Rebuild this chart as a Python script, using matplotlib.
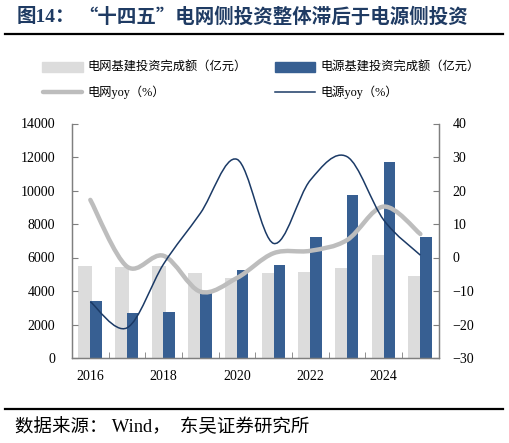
import matplotlib.pyplot as plt
import numpy as np
from matplotlib.path import Path
from matplotlib.patches import PathPatch, Rectangle
from matplotlib.lines import Line2D

plt.rcParams['font.family'] = ['Liberation Serif', 'Noto Sans CJK SC']

years = [2016, 2017, 2018, 2019, 2020, 2021, 2022, 2023, 2024, 2025]
year_labels = ['2016', '', '2018', '', '2020', '', '2022', '', '2024', '']
grid_inv = [5510, 5450, 5470, 5090, 4780, 5050, 5115, 5350, 6170, 4915]
power_inv = [3420, 2705, 2746, 3960, 5254, 5550, 7224, 9710, 11700, 7224]
grid_yoy = [17.2, -2.7, 0.5, -10.2, -6.1, 1.3, 2.0, 5.2, 15.2, 7.0]
power_yoy = [-13.2, -21.0, -1.9, 13.2, 29.3, 4.2, 23.1, 30.1, 11.2, 0.7]

c_gray_bar = '#dcdcdc'
c_blue_bar = '#375f92'
c_gray_line = '#bdbdbd'
c_navy_line = '#1b3a66'
c_title = '#1f3b63'
c_spine = '#7f7f7f'


def smooth_path(xs, ys):
    # excel-like smoothed line: catmull-rom segments as cubic beziers
    pts = np.column_stack([xs, ys]).astype(float)
    ext = np.vstack([pts[0], pts, pts[-1]])
    verts = [pts[0]]
    codes = [Path.MOVETO]
    for i in range(len(pts) - 1):
        p0, p1, p2, p3 = ext[i], ext[i + 1], ext[i + 2], ext[i + 3]
        verts += [p1 + (p2 - p0) / 6, p2 - (p3 - p1) / 6, p2]
        codes += [Path.CURVE4] * 3
    return Path(verts, codes)


W, H = 509, 443
fig = plt.figure(figsize=(W / 100, H / 100), dpi=100)
ax = fig.add_axes([72 / W, 1 - 358 / H, (438.7 - 72) / W, (358 - 123.5) / H])
ax2 = ax.twinx()

x = np.arange(len(years))
ax.bar(x - 0.14, grid_inv, width=0.38, color=c_gray_bar, zorder=1)
ax.bar(x + 0.15, power_inv, width=0.31, color=c_blue_bar, zorder=2)

ax.set_xlim(-0.5, len(years) - 0.5)
ax.set_ylim(0, 14000)
ax.set_yticks(range(0, 14001, 2000))
ax.set_xticks(x)
ax.set_xticklabels(year_labels)
ax.set_xticks(np.arange(-0.5, len(years)), minor=True)
ax.tick_params(axis='x', which='major', length=0, pad=9, labelsize=10)
ax.tick_params(axis='x', which='minor', direction='in', length=4, color=c_spine)
ax.tick_params(axis='y', direction='in', length=4, color=c_spine, pad=12, labelsize=10)

ax2.add_patch(PathPatch(smooth_path(x, grid_yoy), fill=False, edgecolor=c_gray_line,
                        lw=3.2, capstyle='round', zorder=3))
ax2.add_patch(PathPatch(smooth_path(x, power_yoy), fill=False, edgecolor=c_navy_line,
                        lw=1.1, zorder=4))
ax2.set_ylim(-30, 40)
ax2.set_yticks(range(-30, 41, 10))
ax2.tick_params(axis='y', direction='in', length=4, color=c_spine, pad=10, labelsize=10)

for a in (ax, ax2):
    a.spines['top'].set_visible(False)
    for s in ('left', 'right', 'bottom'):
        a.spines[s].set_color(c_spine)
        a.spines[s].set_linewidth(0.9)
ax2.set_zorder(ax.get_zorder() + 1)
ax2.patch.set_visible(False)

# title and rules
fig.text(17 / W, 1 - 17 / H, '图14：', fontsize=14, fontweight='bold', color=c_title,
         va='center', ha='left')
fig.text(78 / W, 1 - 17 / H, '“十四五”电网侧投资整体滞后于电源侧投资', fontsize=14,
         fontweight='bold', color=c_title, va='center', ha='left',
         family=['Noto Sans CJK SC', 'DejaVu Sans'])
fig.add_artist(Line2D([5 / W, 503 / W], [1 - 34 / H, 1 - 34 / H], color='black', lw=1.6))
fig.add_artist(Line2D([5 / W, 503 / W], [1 - 409 / H, 1 - 409 / H], color='black', lw=1.6))
fig.text(15 / W, 1 - 427 / H, '数据来源： Wind，  东吴证券研究所', fontsize=13.3,
         va='center', ha='left')

# legend
leg_fs = 8.8
fig.add_artist(Rectangle((42 / W, 1 - 72.3 / H), 41 / W, 10 / H, color=c_gray_bar))
fig.text(87 / W, 1 - 67.5 / H, '电网基建投资完成额（亿元）', fontsize=leg_fs, va='center')
fig.add_artist(Rectangle((275 / W, 1 - 72.3 / H), 40 / W, 10 / H, color=c_blue_bar))
fig.text(320 / W, 1 - 67.5 / H, '电源基建投资完成额（亿元）', fontsize=leg_fs, va='center')
fig.add_artist(Line2D([43 / W, 82 / W], [1 - 92.3 / H, 1 - 92.3 / H], color=c_gray_line,
                      lw=3.2, solid_capstyle='round'))
fig.text(87 / W, 1 - 92.3 / H, '电网yoy（%）', fontsize=leg_fs, va='center')
fig.add_artist(Line2D([275 / W, 315 / W], [1 - 92.3 / H, 1 - 92.3 / H], color=c_navy_line,
                      lw=1.1))
fig.text(320 / W, 1 - 92.3 / H, '电源yoy（%）', fontsize=leg_fs, va='center')

fig.savefig('out.png', dpi=100)
